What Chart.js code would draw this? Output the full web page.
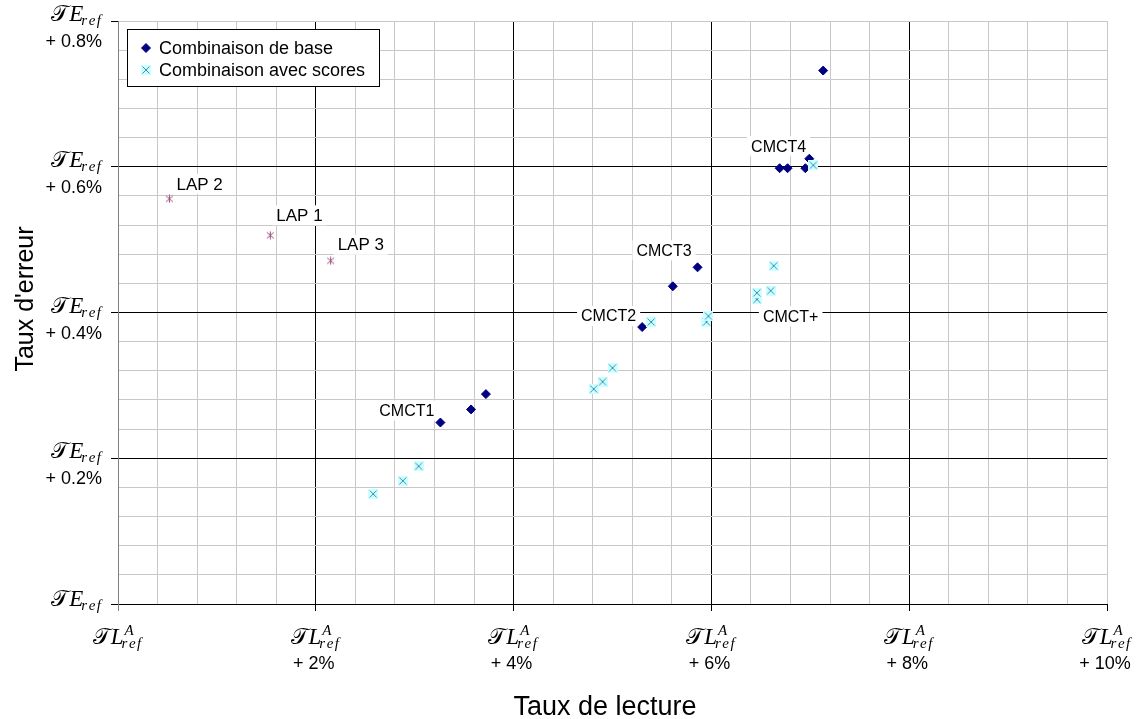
<!DOCTYPE html>
<html>
<head>
<meta charset="utf-8">
<script src="https://cdn.jsdelivr.net/npm/chart.js@4.4.1/dist/chart.umd.min.js"></script>
<style>
  html, body { margin: 0; padding: 0; background: #fff; }
  canvas { display: block; }
</style>
</head>
<body>
<canvas id="chart" width="1139" height="719"></canvas>
<script>
// Gain in reading rate (%) against gain in error rate (%), relative to the reference
const baseX = [3.26, 3.57, 3.72, 5.30, 5.61, 5.86, 6.69, 6.77, 6.95, 6.99, 7.13];
const baseY = [0.249, 0.267, 0.288, 0.380, 0.436, 0.462, 0.598, 0.598, 0.598, 0.611, 0.732];

const scoreX = [2.58, 2.88, 3.04, 4.81, 4.90, 5.00, 5.39, 5.95, 5.97, 6.46, 6.46, 6.60, 6.63, 7.03];
const scoreY = [0.151, 0.169, 0.189, 0.295, 0.305, 0.324, 0.387, 0.387, 0.395, 0.418, 0.427, 0.430, 0.464, 0.602];

const lapNames = ['LAP 2', 'LAP 1', 'LAP 3'];
const lapX = [0.52, 1.54, 2.15];
const lapY = [0.556, 0.506, 0.471];

const xMajor = [0, 2, 4, 6, 8, 10];
const xMajorText = ['', '+ 2%', '+ 4%', '+ 6%', '+ 8%', '+ 10%'];
const yMajor = [0, 0.2, 0.4, 0.6, 0.8];
const yMajorText = ['', '+ 0.2%', '+ 0.4%', '+ 0.6%', '+ 0.8%'];

// point labels: which dataset/point they hang from, and how they sit next to it
const pointLabels = [
  { text: lapNames[0], ds: 2, i: 0, align: 'left', dx: 7, dy: -15, size: 17 },
  { text: lapNames[1], ds: 2, i: 1, align: 'left', dx: 6, dy: -20, size: 17 },
  { text: lapNames[2], ds: 2, i: 2, align: 'left', dx: 7, dy: -16, size: 17 },
  { text: 'CMCT1', ds: 0, i: 0, align: 'right', dx: -6, dy: -12, size: 16 },
  { text: 'CMCT2', ds: 0, i: 3, align: 'right', dx: -6, dy: -11, size: 16 },
  { text: 'CMCT3', ds: 0, i: 5, align: 'right', dx: -6, dy: -17, size: 16 },
  { text: 'CMCT4', ds: 0, i: 6, align: 'center', dx: -1, dy: -22, size: 16 },
  { text: 'CMCT+', ds: 1, i: 9, align: 'left', dx: 6, dy: 17, size: 16 }
];

const SANS = "'Liberation Sans', Arial, sans-serif";

function toPoints(xs, ys) {
  return xs.map((x, i) => ({ x: x, y: ys[i] }));
}

// light cyan square with a cross, as the spreadsheet marker
function makeScoreMark() {
  const c = document.createElement('canvas');
  c.width = 10; c.height = 10;
  const g = c.getContext('2d');
  g.fillStyle = '#ccffff';
  g.fillRect(0, 0, 10, 10);
  g.strokeStyle = '#3d8fb8';
  g.lineWidth = 1;
  g.beginPath();
  g.moveTo(1.5, 1.5); g.lineTo(8.5, 8.5);
  g.moveTo(8.5, 1.5); g.lineTo(1.5, 8.5);
  g.stroke();
  return c;
}

// asterisk marker: a cross plus a vertical bar
function makeLapMark() {
  const c = document.createElement('canvas');
  c.width = 9; c.height = 9;
  const g = c.getContext('2d');
  g.strokeStyle = '#9c4d7a';
  g.lineWidth = 1;
  g.beginPath();
  g.moveTo(1, 1.5); g.lineTo(8, 7.5);
  g.moveTo(8, 1.5); g.lineTo(1, 7.5);
  g.moveTo(4.5, 0.5); g.lineTo(4.5, 8.5);
  g.stroke();
  return c;
}

const near = (a, b) => Math.abs(a - b) < 1e-6;
const isMult = (v, step) => near(v / step, Math.round(v / step));

// text with a little extra room between letters, returns its width
function spaced(ctx, s, x, y, gap, draw) {
  let w = 0;
  for (const ch of s) {
    if (draw) ctx.fillText(ch, x + w, y);
    w += ctx.measureText(ch).width + gap;
  }
  return w - gap;
}

// 𝒯E_ref / 𝒯L^A_ref style tick label
function drawRef(ctx, x, y, letter, sup, align) {
  const script = "23px 'DejaVu Serif', 'Liberation Serif', serif";
  const big = "italic 23px 'Liberation Serif', serif";
  const small = "italic 15px 'Liberation Serif', serif";
  ctx.font = script;
  const wT = ctx.measureText('\u{1D4AF}').width;
  ctx.font = big;
  const wL = ctx.measureText(letter).width;
  ctx.font = small;
  const wSub = spaced(ctx, 'ref', 0, 0, 1.5, false);
  const wSup = sup ? ctx.measureText(sup).width : 0;
  const w = wT + wL + Math.max(wSub, wSup);
  const x0 = align === 'right' ? x - w : x - w / 2;
  ctx.textAlign = 'left';
  ctx.textBaseline = 'alphabetic';
  ctx.font = script;
  ctx.fillText('\u{1D4AF}', x0, y);
  ctx.font = big;
  ctx.fillText(letter, x0 + wT, y);
  ctx.font = small;
  spaced(ctx, 'ref', x0 + wT + wL - 2, y + 4, 1.5, true);
  if (sup) ctx.fillText(sup, x0 + wT + wL + 1, y - 9);
}

const decor = {
  id: 'decor',
  beforeDatasetsDraw(chart) {
    const ctx = chart.ctx;
    ctx.save();
    pointLabels.forEach(lb => {
      const el = chart.getDatasetMeta(lb.ds).data[lb.i];
      ctx.font = lb.size + 'px ' + SANS;
      const w = ctx.measureText(lb.text).width;
      let x = el.x + lb.dx;
      if (lb.align === 'right') x -= w;
      else if (lb.align === 'center') x -= w / 2;
      const y = el.y + lb.dy;
      ctx.fillStyle = '#fff';
      ctx.fillRect(x - 4, y - 10, w + 8, 20);
      ctx.fillStyle = '#000';
      ctx.textAlign = 'left';
      ctx.textBaseline = 'middle';
      ctx.fillText(lb.text, x, y + 1);
    });
    ctx.restore();
  },
  afterDraw(chart) {
    const ctx = chart.ctx;
    const { x: xs, y: ys } = chart.scales;
    const area = chart.chartArea;
    ctx.save();
    ctx.fillStyle = '#000';

    // y tick labels
    yMajor.forEach((v, k) => {
      const py = ys.getPixelForValue(v);
      drawRef(ctx, area.left - 15, py + (v === 0 ? 2 : 0), 'E', null, 'right');
      if (yMajorText[k]) {
        ctx.font = '18px ' + SANS;
        ctx.textAlign = 'right';
        ctx.textBaseline = 'alphabetic';
        ctx.fillText(yMajorText[k], area.left - 16, py + 26);
      }
    });

    // x tick labels
    xMajor.forEach((v, k) => {
      const px = xs.getPixelForValue(v);
      drawRef(ctx, px, area.bottom + 40, 'L', 'A', 'center');
      if (xMajorText[k]) {
        ctx.font = '18px ' + SANS;
        ctx.textAlign = 'center';
        ctx.textBaseline = 'alphabetic';
        ctx.fillText(xMajorText[k], px - 2, area.bottom + 65);
      }
    });

    // axis titles
    ctx.font = '27px ' + SANS;
    ctx.textAlign = 'center';
    ctx.textBaseline = 'alphabetic';
    ctx.fillText('Taux de lecture', 605, 715);
    ctx.save();
    ctx.translate(33, 299);
    ctx.rotate(-Math.PI / 2);
    ctx.font = '25px ' + SANS;
    ctx.fillText("Taux d'erreur", 0, 0);
    ctx.restore();

    // legend box
    const lx = 127, ly = 29, lw = 252, lh = 57;
    ctx.fillStyle = '#fff';
    ctx.fillRect(lx, ly, lw, lh);
    ctx.strokeStyle = '#000';
    ctx.lineWidth = 1;
    ctx.strokeRect(lx + 0.5, ly + 0.5, lw, lh);
    [0, 1].forEach(d => {
      const ds = chart.data.datasets[d];
      const cy = ly + 19 + d * 22;
      ctx.fillStyle = ds.backgroundColor;
      ctx.strokeStyle = ds.borderColor;
      ctx.lineWidth = ds.borderWidth;
      Chart.helpers.drawPoint(ctx, { pointStyle: ds.pointStyle, radius: ds.pointRadius, rotation: 0, borderWidth: ds.borderWidth }, lx + 19, cy);
      ctx.fillStyle = '#000';
      ctx.font = '18px ' + SANS;
      ctx.textAlign = 'left';
      ctx.textBaseline = 'alphabetic';
      ctx.fillText(ds.label, lx + 32, cy + 6);
    });
    ctx.restore();
  }
};

new Chart(document.getElementById('chart'), {
  type: 'scatter',
  data: {
    datasets: [
      {
        label: 'Combinaison de base',
        data: toPoints(baseX, baseY),
        pointStyle: 'rectRot',
        pointRadius: 4.5,
        backgroundColor: '#000080',
        borderColor: '#000080',
        borderWidth: 1,
        order: 1
      },
      {
        label: 'Combinaison avec scores',
        data: toPoints(scoreX, scoreY),
        pointStyle: makeScoreMark(),
        pointRadius: 5,
        backgroundColor: '#ccffff',
        borderColor: '#3d8fb8',
        borderWidth: 1,
        order: 0
      },
      {
        label: 'LAP',
        data: toPoints(lapX, lapY),
        pointStyle: makeLapMark(),
        pointRadius: 4,
        backgroundColor: '#9c4d7a',
        borderColor: '#9c4d7a',
        borderWidth: 1,
        order: 1
      }
    ]
  },
  options: {
    responsive: false,
    animation: false,
    devicePixelRatio: 1,
    layout: { padding: { left: 111, right: 32, top: 21, bottom: 108 } },
    plugins: { legend: { display: false }, tooltip: { enabled: false } },
    scales: {
      x: {
        type: 'linear',
        min: 0,
        max: 10,
        ticks: { stepSize: 0.4, display: false },
        grid: {
          lineWidth: 1,
          tickLength: 7,
          color: c => {
            const v = c.tick.value;
            if (near(v, 0)) return '#808080';
            if (near(v, 10)) return '#c8c8c8';
            return isMult(v, 2) ? '#000' : '#c8c8c8';
          },
          tickColor: c => {
            const v = c.tick.value;
            if (near(v, 0)) return '#808080';
            return isMult(v, 2) ? '#000' : 'rgba(0,0,0,0)';
          }
        },
        border: { color: '#000' }
      },
      y: {
        type: 'linear',
        min: 0,
        max: 0.8,
        ticks: { stepSize: 0.04, display: false },
        grid: {
          lineWidth: 1,
          tickLength: 7,
          color: c => {
            const v = c.tick.value;
            if (near(v, 0)) return '#000';
            if (near(v, 0.8)) return '#c8c8c8';
            return isMult(v, 0.2) ? '#000' : '#c8c8c8';
          },
          tickColor: c => isMult(c.tick.value, 0.2) ? '#000' : 'rgba(0,0,0,0)'
        },
        border: { color: '#808080' }
      }
    }
  },
  plugins: [decor]
});
</script>
</body>
</html>
